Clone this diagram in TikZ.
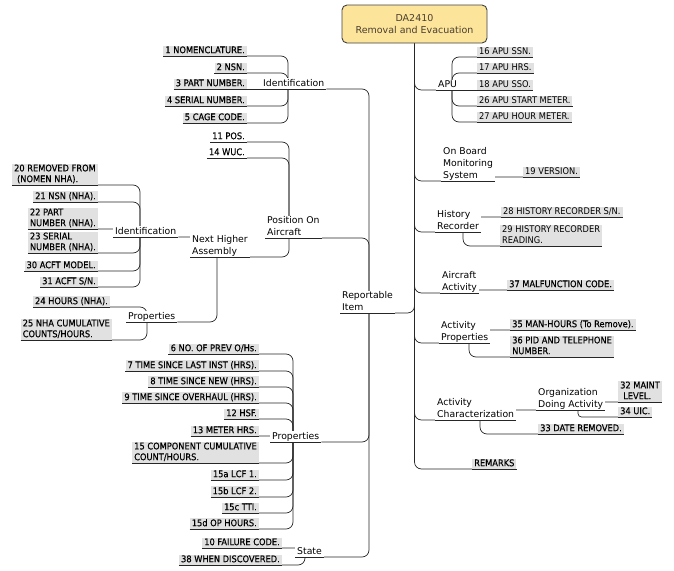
\documentclass[tikz,border=0pt]{standalone}
\usepackage{fontspec}
\setmainfont{DejaVu Sans}
\newfontfamily\leaffont{DejaVu Sans Condensed}
\newfontfamily\leafboldfont[FakeBold=0.3]{DejaVu Sans Condensed}
\usepackage{tikz}
\usetikzlibrary{backgrounds}
\definecolor{leaf gray}{HTML}{E1E1E1}
\definecolor{root yellow}{HTML}{FDE49B}
\definecolor{root text}{HTML}{4A3F30}
\newcommand{\lstrut}{\rule[-1.8pt]{0pt}{7.6pt}}

\tikzset{
	topic/.style={font={\fontsize{9.3}{11.8}\selectfont}, align=left, fill=white,
		inner xsep=2pt, inner ysep=0.8pt,
		execute at begin node=\lstrut, execute at end node=\lstrut},
	item/.style={topic, font={\fontsize{9.2}{10.8}\leafboldfont}},
	leaf/.style={item, fill=leaf gray},
	leaflight/.style={leaf, font={\fontsize{9.2}{10.8}\leaffont}},
	straight/.style={draw=black!85, line width=0.7pt},
	conn/.style={straight, rounded corners=7pt},
	tight/.style={straight, rounded corners=2pt},
	trunk/.style={line width=1.8pt},
	root/.style={draw=black!75, line width=0.9pt, fill=root yellow, rounded corners=5pt,
		minimum width=145pt, minimum height=38pt, align=center, text=root text,
		font={\fontsize{9.5}{12.5}\selectfont}}
}

\begin{document}
\begin{tikzpicture}[x=1pt, y=-1pt]
		\useasboundingbox (0,0) rectangle (674,570);
		% root
		\node[root] (root) at (414.5,24) {DA2410\\Removal and Evacuation};
		% left: reportable item
		\node[topic, anchor=south west] (rep) at (340,313) {Reportable\\Item};
		\node[topic, anchor=south west] (ident) at (261,89) {Identification};
		\node[leaf, anchor=south east] (nomen) at (247,56) {1 NOMENCLATURE.};
		\node[leaf, anchor=south east] (nsn) at (247,73) {2 NSN.};
		\node[leaf, anchor=south east] (partno) at (247,89) {3 PART NUMBER.};
		\node[leaf, anchor=south east] (serial) at (247,106) {4 SERIAL NUMBER.};
		\node[leaf, anchor=south east] (cage) at (247,123) {5 CAGE CODE.};
		% position on aircraft
		\node[topic, anchor=south west] (pos) at (265,238) {Position On\\Aircraft};
		\node[item, anchor=south east] (posno) at (247,142) {11 POS.};
		\node[item, anchor=south east] (wuc) at (247,158) {14 WUC.};
		\node[topic, anchor=south west] (nha) at (190,257) {Next Higher\\Assembly};
		\node[topic, anchor=south west] (nhaid) at (113,237) {Identification};
		\node[leaf, anchor=south east] (remfrom) at (98,185) {20 REMOVED FROM\\\hspace*{3pt}(NOMEN NHA).};
		\node[leaf, anchor=south east] (nhansn) at (98,202) {21 NSN (NHA).};
		\node[leaf, anchor=south east] (nhapart) at (98,229) {22 PART\\NUMBER (NHA).};
		\node[leaf, anchor=south east] (nhaserial) at (98,253) {23 SERIAL\\NUMBER (NHA).};
		\node[leaf, anchor=south east] (acftmodel) at (98,271) {30 ACFT MODEL.};
		\node[leaf, anchor=south east] (acftsn) at (98,287) {31 ACFT S/N.};
		\node[topic, anchor=south west] (nhaprop) at (126,322) {Properties};
		\node[leaf, anchor=south east] (nhahrs) at (110,307) {24 HOURS (NHA).};
		\node[leaf, anchor=south east] (nhacum) at (112,340) {25 NHA CUMULATIVE\\COUNTS/HOURS.};
		% properties
		\node[topic, anchor=south west] (props) at (270,442) {Properties};
		\node[leaf, anchor=south east] (prevoh) at (259,354) {6 NO. OF PREV O/Hs.};
		\node[leaf, anchor=south east] (lastinst) at (259,371) {7 TIME SINCE LAST INST (HRS).};
		\node[leaf, anchor=south east] (tsn) at (259,387) {8 TIME SINCE NEW (HRS).};
		\node[leaf, anchor=south east] (tso) at (259,403) {9 TIME SINCE OVERHAUL (HRS).};
		\node[leaf, anchor=south east] (hsf) at (259,419) {12 HSF.};
		\node[leaf, anchor=south east] (meter) at (259,436) {13 METER HRS.};
		\node[leaf, anchor=south east] (compcum) at (259,463) {15 COMPONENT CUMULATIVE\\COUNT/HOURS.};
		\node[leaf, anchor=south east] (lcfa) at (259,480) {15a LCF 1.};
		\node[leaf, anchor=south east] (lcfb) at (259,497) {15b LCF 2.};
		\node[leaf, anchor=south east] (tti) at (259,513) {15c TTI.};
		\node[leaf, anchor=south east] (ophrs) at (259,529) {15d OP HOURS.};
		% state
		\node[topic, anchor=south west] (state) at (295,557) {State};
		\node[leaf, anchor=south east] (failcode) at (282,548) {10 FAILURE CODE.};
		\node[leaf, anchor=south east] (whendisc) at (282,565) {38 WHEN DISCOVERED.};
		% right side
		\node[topic, anchor=south west] (apu) at (436,90) {APU};
		\node[leaflight, anchor=south west] (apussn) at (477,57) {16 APU SSN.};
		\node[leaflight, anchor=south west] (apuhrs) at (477,73) {17 APU HRS.};
		\node[leaflight, anchor=south west] (apusso) at (477,90) {18 APU SSO.};
		\node[leaflight, anchor=south west] (apustart) at (477,106) {26 APU START METER.};
		\node[leaflight, anchor=south west] (apuhour) at (477,122) {27 APU HOUR METER.};
		\node[topic, anchor=south west] (obms) at (441,181) {On Board\\Monitoring\\System};
		\node[leaflight, anchor=south west] (version) at (523,177) {19 VERSION.};
		\node[topic, anchor=south west] (hist) at (435,232) {History\\Recorder};
		\node[leaflight, anchor=south west] (histsn) at (501,217) {28 HISTORY RECORDER S/N.};
		\node[leaflight, anchor=south west] (histread) at (500,246) {29 HISTORY RECORDER\\READING.};
		\node[topic, anchor=south west] (acact) at (440,293) {Aircraft\\Activity};
		\node[leaf, anchor=south west] (malf) at (507,290) {37 MALFUNCTION CODE.};
		\node[topic, anchor=south west] (actprop) at (439,343) {Activity\\Properties};
		\node[leaf, anchor=south west] (manhrs) at (510,330) {35 MAN-HOURS (To Remove).};
		\node[leaf, anchor=south west] (pid) at (510,357) {36 PID AND TELEPHONE\\NUMBER.};
		\node[topic, anchor=south west] (actchar) at (435,420) {Activity\\Characterization};
		\node[topic, anchor=south west] (org) at (536,410) {Organization\\Doing Activity};
		\node[leaf, anchor=south west] (maint) at (618,402) {32 MAINT\\\hspace*{3pt}LEVEL.};
		\node[leaf, anchor=south west] (uic) at (618,417) {34 UIC.};
		\node[leaf, anchor=south west] (daterem) at (538,434) {33 DATE REMOVED.};
		\node[leaf, anchor=south west] (remarks) at (472,469) {REMARKS};
		% junctions
		\coordinate (repj) at (369,313);
		\coordinate (identj) at (288,89);
		\coordinate (posj) at (289,238);
		\coordinate (nhaj) at (217,257);
		\coordinate (nhaidj) at (140,237);
		\coordinate (nhapropj) at (147,322);
		\coordinate (propsj) at (293,442);
		\coordinate (statej) at (305,557);
		\coordinate (apuj) at (452,90);
		\coordinate (obmsj) at (490,181);
		\coordinate (histj) at (463,232);
		\coordinate (acactj) at (470,293);
		\coordinate (actpropj) at (469,343);
		\coordinate (actcharj) at (480,420);
		\coordinate (orgj) at (578,410);
		% underlines
		\foreach \n in {rep,ident,nomen,nsn,partno,serial,cage,pos,posno,wuc,nha,nhaid,
			remfrom,nhansn,nhapart,nhaserial,acftmodel,acftsn,nhaprop,nhahrs,nhacum,
			props,prevoh,lastinst,tsn,tso,hsf,meter,compcum,lcfa,lcfb,tti,ophrs,
			state,failcode,whendisc,apu,apussn,apuhrs,apusso,apustart,apuhour,obms,version,
			hist,histsn,histread,acact,malf,actprop,manhrs,pid,actchar,org,maint,uic,daterem,remarks}
			\draw[straight] (\n.south west) -- (\n.south east);
		% connectors
		\begin{scope}[on background layer]
			\draw[trunk] (root.south) -- (414.5,458);
			\foreach \c in {apu,obms,hist,acact,actprop,actchar,remarks}
				\draw[conn] (root.south) |- (\c.south west);
			\draw[conn] (root.south) |- (rep.south east);
			\foreach \c in {ident,pos,props,state}
				\draw[conn] (repj) |- (\c.south east);
			\foreach \c in {nomen,nsn,serial,cage}
				\draw[conn] (identj) |- (\c.south east);
			\draw[straight] (identj) -- (partno.south east);
			\foreach \c in {posno,wuc,nha}
				\draw[conn] (posj) |- (\c.south east);
			\foreach \c in {nhaid,nhaprop}
				\draw[conn] (nhaj) |- (\c.south east);
			\foreach \c in {remfrom,nhansn,nhapart,nhaserial,acftmodel,acftsn}
				\draw[conn] (nhaidj) |- (\c.south east);
			\foreach \c in {nhahrs,nhacum}
				\draw[conn] (nhapropj) |- (\c.south east);
			\foreach \c in {prevoh,lastinst,tsn,tso,hsf,compcum,lcfa,lcfb,tti,ophrs}
				\draw[conn] (propsj) |- (\c.south east);
			\draw[tight] (propsj) |- (meter.south east);
			\foreach \c in {failcode,whendisc}
				\draw[conn] (statej) |- (\c.south east);
			\foreach \c in {apussn,apuhrs,apustart,apuhour}
				\draw[conn] (apuj) |- (\c.south west);
			\draw[straight] (apuj) -- (apusso.south west);
			\draw[tight] (obmsj) |- (version.south west);
			\foreach \c in {histsn,histread}
				\draw[conn] (histj) |- (\c.south west);
			\draw[tight] (acactj) |- (malf.south west);
			\foreach \c in {manhrs,pid}
				\draw[conn] (actpropj) |- (\c.south west);
			\foreach \c in {org,daterem}
				\draw[conn] (actcharj) |- (\c.south west);
			\draw[conn] (orgj) |- (maint.south west);
			\draw[conn, rounded corners=3.5pt] (orgj) |- (uic.south west);
		\end{scope}
	\end{tikzpicture}
\end{document}
